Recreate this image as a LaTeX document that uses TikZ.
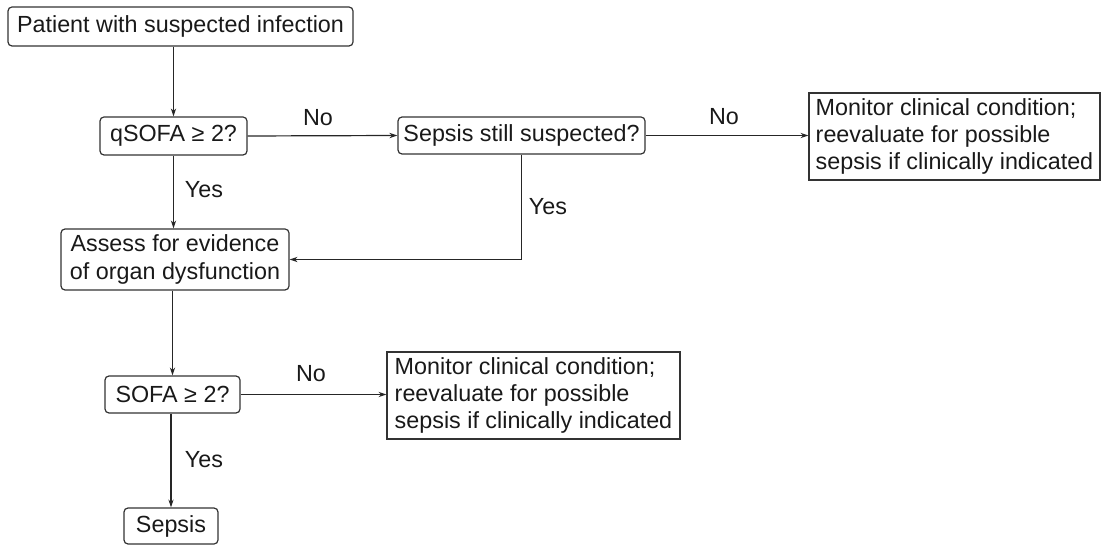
\documentclass[tikz,border=0pt]{standalone}
\usepackage{fontspec}
\setmainfont{Liberation Sans}
\usetikzlibrary{arrows.meta}
\begin{document}
\begin{tikzpicture}[x=0.75pt,y=-0.75pt,
  every node/.style={font=\fontsize{17.5}{20.3}\selectfont, text=black!90},
  rbox/.style={draw=black!80, line width=0.9pt, rounded corners=3pt, inner sep=0pt, align=center},
  sbox/.style={draw=black!80, line width=0.9pt, inner sep=0pt, align=left},
  arr/.style={draw=black!85, line width=0.9pt, -{Stealth[length=6pt,width=4pt]}},
  lbl/.style={inner sep=0pt}]
\useasboundingbox (0,0) rectangle (1102,548);
\node[rbox, minimum width=345*0.75pt, minimum height=39*0.75pt] (start) at (180.5,26.5) {Patient with suspected infection};
\node[rbox, minimum width=147*0.75pt, minimum height=38*0.75pt] (qsofa) at (173.5,136) {qSOFA ≥ 2?};
\node[rbox, minimum width=247*0.75pt, minimum height=37*0.75pt] (still) at (521.5,135.5) {Sepsis still suspected?};
\node[sbox, minimum width=291*0.75pt, minimum height=87*0.75pt] (mon1) at (954.5,136.5) {Monitor clinical condition;\\reevaluate for possible\\sepsis if clinically indicated};
\node[rbox, minimum width=228*0.75pt, minimum height=61*0.75pt] (assess) at (175,259.5) {Assess for evidence\\of organ dysfunction};
\node[rbox, minimum width=135*0.75pt, minimum height=37*0.75pt] (sofa) at (172.5,394.5) {SOFA ≥ 2?};
\node[sbox, minimum width=293*0.75pt, minimum height=87*0.75pt] (mon2) at (533.5,395.5) {Monitor clinical condition;\\reevaluate for possible\\sepsis if clinically indicated};
\node[rbox, minimum width=94*0.75pt, minimum height=36*0.75pt] (sepsis) at (171,526) {Sepsis};

\draw[arr] (qsofa.north |- start.south) -- (qsofa.north);
\draw[arr] (qsofa.east) -- (still.west);
\draw[arr] (still.east) -- (mon1.west |- still.east);
\draw[arr] (qsofa.south) -- (qsofa.south |- assess.north);
\draw[arr] (still.south) -- (still.south |- assess.east) -- (assess.east);
\draw[arr] (sofa.north |- assess.south) -- (sofa.north);
\draw[arr] (sofa.east) -- (mon2.west |- sofa.east);
\draw[arr] (sepsis.north |- sofa.south) -- (sepsis.north);

\node[lbl] (l1) at (318,118) {No};
\node[lbl] (l2) at (724,117) {No};
\node[lbl] (l3) at (204,190) {Yes};
\node[lbl] (l4) at (548,207) {Yes};
\node[lbl] (l5) at (311,374) {No};
\node[lbl] (l6) at (204,460) {Yes};
\end{tikzpicture}
\end{document}
